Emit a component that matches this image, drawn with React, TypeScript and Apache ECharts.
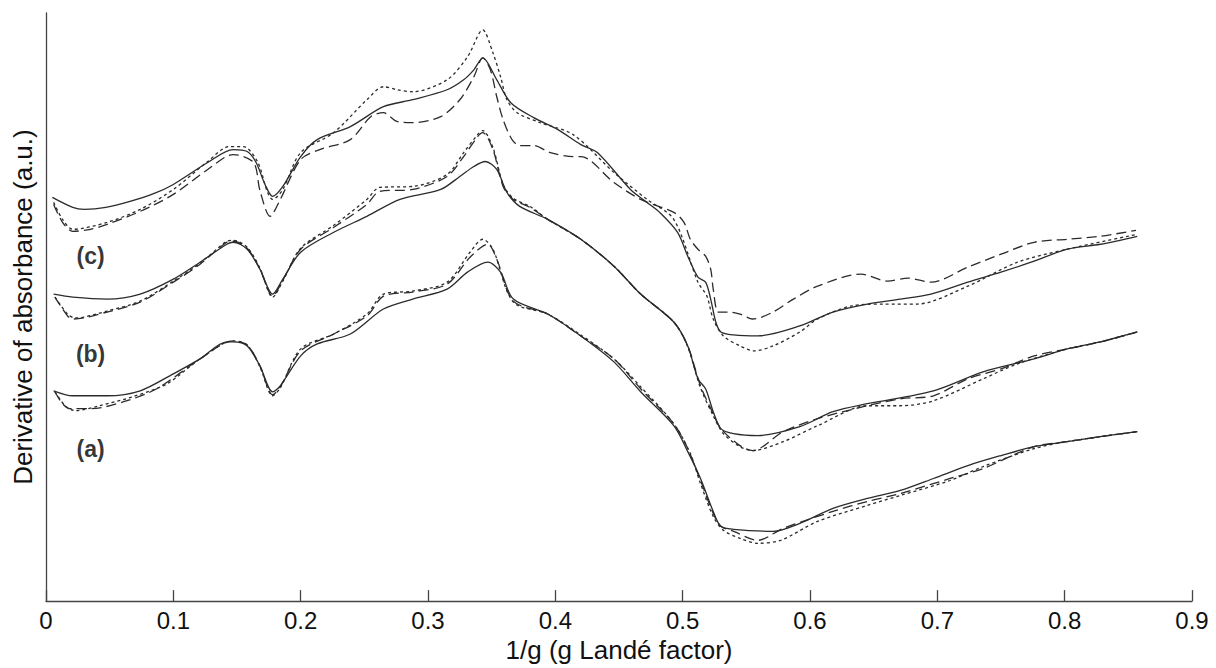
import React, { useEffect, useRef } from "react";
import * as echarts from "echarts";

// x: 1/g ; y: derivative of absorbance (arbitrary units, offset spectra)
const cSolid: [number, number][] = [
  [0.005, 405], [0.021, 395], [0.030, 393], [0.047, 395], [0.066, 401], [0.085, 409], [0.100, 418], [0.127, 440],
  [0.147, 453], [0.158, 451], [0.165, 440], [0.172, 418], [0.178, 406], [0.186, 416], [0.200, 446], [0.213, 463],
  [0.239, 476], [0.265, 496], [0.288, 503], [0.315, 513], [0.328, 523], [0.336, 533], [0.343, 545], [0.354, 523],
  [0.365, 500], [0.383, 485], [0.402, 473], [0.420, 458], [0.433, 450], [0.459, 413], [0.472, 400], [0.482, 390],
  [0.496, 370], [0.504, 346], [0.512, 325], [0.518, 320], [0.522, 303], [0.526, 280], [0.530, 270], [0.540, 267],
  [0.559, 266], [0.592, 276], [0.618, 290], [0.645, 298], [0.671, 303], [0.695, 308], [0.724, 320], [0.750, 330],
  [0.776, 341], [0.802, 353], [0.828, 358], [0.857, 366],
];
const cDashed: [number, number][] = [
  [0.006, 398], [0.013, 380], [0.021, 371], [0.035, 373], [0.048, 378], [0.074, 391], [0.100, 408], [0.127, 433],
  [0.147, 448], [0.163, 440], [0.168, 412], [0.176, 386], [0.184, 403], [0.200, 443], [0.215, 453], [0.239, 463],
  [0.255, 486], [0.265, 490], [0.276, 481], [0.288, 480], [0.310, 486], [0.325, 503], [0.336, 526], [0.343, 545],
  [0.349, 533], [0.354, 506], [0.359, 483], [0.366, 463], [0.372, 457], [0.383, 457], [0.396, 450], [0.414, 446],
  [0.420, 446], [0.446, 420], [0.467, 403], [0.493, 390], [0.501, 380], [0.506, 363], [0.512, 353], [0.518, 346],
  [0.522, 333], [0.524, 313], [0.528, 290], [0.535, 290], [0.545, 288], [0.555, 283], [0.571, 290], [0.587, 303],
  [0.606, 316], [0.640, 328], [0.661, 321], [0.677, 324], [0.695, 320], [0.724, 335], [0.750, 348], [0.776, 360],
  [0.802, 363], [0.828, 366], [0.856, 372],
];
const cDotted: [number, number][] = [
  [0.006, 400], [0.013, 383], [0.021, 373], [0.048, 380], [0.074, 393], [0.100, 413], [0.127, 441], [0.144, 456],
  [0.155, 456], [0.166, 441], [0.174, 410], [0.178, 403], [0.186, 413], [0.200, 450], [0.226, 470], [0.252, 503],
  [0.265, 516], [0.276, 513], [0.288, 511], [0.315, 523], [0.331, 546], [0.343, 573], [0.351, 550], [0.357, 526],
  [0.362, 503], [0.370, 490], [0.388, 480], [0.414, 468], [0.446, 430], [0.472, 403], [0.493, 383], [0.512, 320],
  [0.519, 306], [0.524, 283], [0.532, 266], [0.545, 256], [0.556, 251], [0.571, 256], [0.592, 270], [0.606, 283],
  [0.632, 296], [0.658, 298], [0.684, 298], [0.724, 316], [0.763, 340], [0.802, 353], [0.857, 368],
];

const bSolid: [number, number][] = [
  [0.006, 308], [0.021, 305], [0.048, 303], [0.074, 308], [0.100, 323], [0.121, 340], [0.142, 358], [0.147, 360],
  [0.158, 353], [0.168, 333], [0.178, 308], [0.186, 323], [0.200, 350], [0.226, 370], [0.252, 386], [0.278, 403],
  [0.310, 413], [0.325, 426], [0.336, 436], [0.345, 441], [0.354, 433], [0.362, 410], [0.372, 396], [0.394, 383],
  [0.420, 363], [0.446, 336], [0.467, 308], [0.493, 280], [0.504, 256], [0.512, 223], [0.518, 213], [0.524, 190],
  [0.530, 173], [0.540, 168], [0.559, 166], [0.592, 175], [0.618, 190], [0.645, 198], [0.697, 211], [0.736, 230],
  [0.776, 243], [0.802, 253], [0.828, 260], [0.857, 270],
];
const bDashed: [number, number][] = [
  [0.007, 305], [0.017, 286], [0.021, 283], [0.048, 290], [0.074, 300], [0.100, 320], [0.121, 338], [0.142, 360],
  [0.147, 361], [0.158, 354], [0.168, 333], [0.178, 306], [0.186, 322], [0.200, 353], [0.226, 375], [0.252, 398],
  [0.262, 411], [0.288, 413], [0.315, 426], [0.328, 446], [0.339, 466], [0.343, 470], [0.351, 453], [0.359, 416],
  [0.367, 403], [0.380, 395], [0.394, 383], [0.420, 363], [0.446, 336], [0.467, 308], [0.493, 280], [0.504, 256],
  [0.514, 216], [0.524, 188], [0.530, 173], [0.545, 156], [0.555, 151], [0.579, 170], [0.606, 183], [0.645, 196],
  [0.671, 203], [0.697, 206], [0.724, 223], [0.750, 233], [0.776, 246], [0.802, 253], [0.828, 260], [0.857, 270],
];
const bDotted: [number, number][] = [
  [0.007, 305], [0.017, 288], [0.023, 284], [0.048, 291], [0.074, 301], [0.100, 321], [0.121, 339], [0.142, 361],
  [0.147, 362], [0.158, 355], [0.168, 334], [0.178, 305], [0.186, 321], [0.200, 354], [0.226, 377], [0.252, 403],
  [0.262, 415], [0.288, 416], [0.315, 428], [0.328, 450], [0.339, 468], [0.343, 472], [0.351, 455], [0.359, 418],
  [0.367, 404], [0.380, 396], [0.394, 383], [0.420, 363], [0.446, 336], [0.467, 308], [0.493, 280], [0.504, 255],
  [0.514, 214], [0.524, 186], [0.532, 168], [0.545, 155], [0.555, 151], [0.579, 160], [0.606, 176], [0.645, 196],
  [0.671, 196], [0.697, 201], [0.736, 223], [0.763, 238], [0.802, 253], [0.828, 260], [0.857, 270],
];

const aSolid: [number, number][] = [
  [0.006, 211], [0.021, 206], [0.048, 206], [0.074, 211], [0.100, 228], [0.121, 243], [0.142, 260], [0.147, 260],
  [0.158, 256], [0.168, 236], [0.178, 210], [0.184, 216], [0.200, 246], [0.213, 258], [0.239, 268], [0.265, 293],
  [0.288, 303], [0.315, 313], [0.331, 330], [0.347, 340], [0.357, 330], [0.367, 303], [0.394, 288], [0.420, 266],
  [0.446, 240], [0.467, 210], [0.493, 176], [0.504, 150], [0.514, 123], [0.524, 90], [0.530, 75], [0.540, 72],
  [0.571, 70], [0.592, 78], [0.618, 93], [0.645, 103], [0.671, 111], [0.697, 123], [0.724, 136], [0.750, 146],
  [0.776, 155], [0.802, 160], [0.828, 165], [0.857, 170],
];
const aDashed: [number, number][] = [
  [0.007, 210], [0.013, 198], [0.019, 193], [0.035, 193], [0.061, 200], [0.087, 213], [0.121, 243], [0.147, 261],
  [0.158, 257], [0.168, 236], [0.178, 207], [0.184, 215], [0.200, 251], [0.226, 268], [0.252, 286], [0.265, 306],
  [0.288, 310], [0.315, 318], [0.333, 345], [0.347, 358], [0.354, 343], [0.367, 301], [0.394, 288], [0.420, 266],
  [0.446, 243], [0.467, 213], [0.493, 178], [0.504, 153], [0.514, 121], [0.524, 88], [0.530, 75], [0.540, 70],
  [0.559, 61], [0.579, 73], [0.618, 90], [0.645, 100], [0.671, 108], [0.710, 123], [0.736, 133], [0.776, 155],
  [0.802, 160], [0.828, 165], [0.857, 170],
];
const aDotted: [number, number][] = [
  [0.007, 210], [0.015, 196], [0.023, 191], [0.042, 196], [0.068, 205], [0.095, 218], [0.121, 243], [0.147, 261],
  [0.158, 257], [0.168, 235], [0.178, 206], [0.184, 214], [0.200, 253], [0.226, 268], [0.252, 288], [0.265, 308],
  [0.288, 311], [0.315, 320], [0.333, 350], [0.343, 363], [0.351, 353], [0.367, 300], [0.394, 288], [0.420, 267],
  [0.446, 243], [0.467, 215], [0.493, 178], [0.506, 148], [0.514, 118], [0.524, 85], [0.532, 71], [0.545, 63],
  [0.559, 58], [0.577, 61], [0.606, 80], [0.645, 96], [0.671, 106], [0.710, 121], [0.736, 135], [0.776, 153],
  [0.802, 160], [0.857, 170],
];

const xTicks = [0, 0.1, 0.2, 0.3, 0.4, 0.5, 0.6, 0.7, 0.8, 0.9];
const sampleLabels = ["(c)", "(b)", "(a)"];
const sampleLabelAnchors: [number, number][] = [[0.035, 346], [0.035, 248], [0.035, 153]];

const FONT = 'Arial, "Liberation Sans", Helvetica, sans-serif';
const INK = "#2b2b2b";

export default function App() {
  const ref = useRef<HTMLDivElement>(null);
  useEffect(() => {
    if (!ref.current) return;
    const chart = echarts.init(ref.current, undefined, { renderer: "svg" });
    const mk = (name: string, data: [number, number][], type: "solid" | number[]) => ({
      name,
      type: "line",
      data,
      showSymbol: false,
      symbol: "none",
      smooth: 0.3,
      lineStyle: { color: INK, width: 1.3, type },
      silent: true,
      z: 3,
    });
    const dashed = [10, 5];
    const dotted = [3, 3];
    chart.setOption({
      animation: false,
      backgroundColor: "#ffffff",
      grid: { left: 46, top: 13, right: 24, bottom: 65, containLabel: false },
      xAxis: {
        type: "value",
        min: xTicks[0],
        max: xTicks[xTicks.length - 1],
        interval: 0.1,
        name: "1/g (g Landé factor)",
        nameLocation: "middle",
        nameGap: 31,
        nameTextStyle: { fontFamily: FONT, fontSize: 26, color: "#111" },
        axisLine: { show: true, lineStyle: { color: "#444", width: 1.3 } },
        axisTick: { show: true, inside: true, length: 11, lineStyle: { color: "#444", width: 1.3 } },
        axisLabel: {
          fontFamily: FONT,
          fontSize: 24,
          color: "#111",
          margin: 7,
          formatter: (v: number) => (Math.abs(v) < 1e-9 ? "0" : String(Math.round(v * 10) / 10)),
        },
        splitLine: { show: false },
      },
      yAxis: {
        type: "value",
        min: 0,
        max: 590,
        name: "Derivative of absorbance (a.u.)",
        nameLocation: "middle",
        nameGap: 10,
        nameTextStyle: { fontFamily: FONT, fontSize: 26, color: "#111" },
        axisLine: { show: true, lineStyle: { color: "#444", width: 1.3 } },
        axisTick: { show: false },
        axisLabel: { show: false },
        splitLine: { show: false },
      },
      series: [
        mk("(c) solid", cSolid, "solid"),
        mk("(c) dashed", cDashed, dashed),
        mk("(c) dotted", cDotted, dotted),
        mk("(b) solid", bSolid, "solid"),
        mk("(b) dashed", bDashed, dashed),
        mk("(b) dotted", bDotted, dotted),
        mk("(a) solid", aSolid, "solid"),
        mk("(a) dashed", aDashed, dashed),
        mk("(a) dotted", aDotted, dotted),
        {
          name: "labels",
          type: "scatter",
          symbolSize: 0,
          silent: true,
          data: sampleLabelAnchors.map((p, i) => ({ value: p, name: sampleLabels[i] })),
          label: {
            show: true,
            position: "inside",
            formatter: (p: any) => p.name,
            fontFamily: FONT,
            fontSize: 23,
            fontWeight: "bold",
            color: "#000",
            textBorderWidth: 0,
          },
        },
      ],
    });
    return () => chart.dispose();
  }, []);
  return (
    <div
      ref={ref}
      style={{ position: "fixed", left: 0, top: 0, width: 1216, height: 668, background: "#fff" }}
    />
  );
}
